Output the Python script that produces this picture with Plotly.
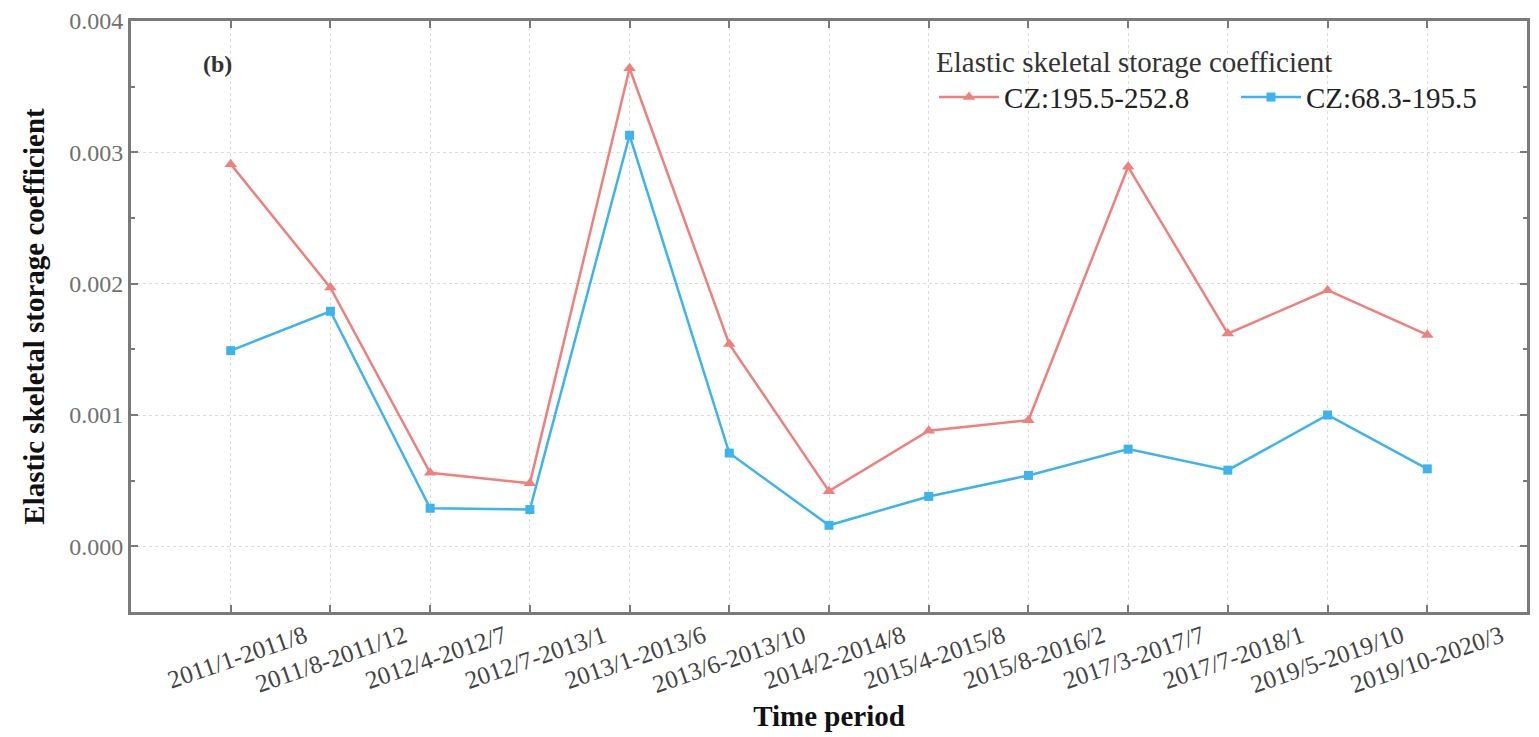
import plotly.graph_objects as go

periods = ["2011/1-2011/8", "2011/8-2011/12", "2012/4-2012/7", "2012/7-2013/1",
           "2013/1-2013/6", "2013/6-2013/10", "2014/2-2014/8", "2015/4-2015/8",
           "2015/8-2016/2", "2017/3-2017/7", "2017/7-2018/1", "2019/5-2019/10",
           "2019/10-2020/3"]
cz_deep = [0.00291, 0.00197, 0.00056, 0.00048, 0.00364, 0.00154, 0.00042,
           0.00088, 0.00096, 0.00289, 0.00162, 0.00195, 0.00161]
cz_shallow = [0.00149, 0.00179, 0.00029, 0.00028, 0.00313, 0.00071, 0.00016,
              0.00038, 0.00054, 0.00074, 0.00058, 0.00100, 0.00059]
name_deep = "CZ:195.5-252.8"
name_shallow = "CZ:68.3-195.5"
y_ticks = [0.000, 0.001, 0.002, 0.003, 0.004]

RED = "#F0807C"
BLUE = "#3DB4EE"
FONT = "Liberation Serif"

# the page body adds an 8px offset; size the figure so it fits the window
OFF = 8
W, H = 1539 - OFF, 737 - OFF
L, R, T, B = 131 - OFF, 12, 21 - OFF, 125
PW, PH = W - L - R, H - T - B


def px_x(page_x):
    return (page_x - OFF - L) / PW


def px_y(page_y):
    return 1 - (page_y - OFF - T) / PH


fig = go.Figure()
fig.add_trace(go.Scatter(
    x=periods, y=cz_deep, name=name_deep, mode="lines+markers",
    line=dict(color=RED, width=2.5),
    marker=dict(symbol="triangle-up", size=11, color=RED)))
fig.add_trace(go.Scatter(
    x=periods, y=cz_shallow, name=name_shallow, mode="lines+markers",
    line=dict(color=BLUE, width=2.5),
    marker=dict(symbol="square", size=9, color=BLUE)))

axis_common = dict(
    showline=True, linecolor="#7a7a7a", linewidth=3, mirror="ticks",
    ticks="inside", ticklen=7, tickwidth=2, tickcolor="#7a7a7a",
    showgrid=True, gridcolor="#dcdcdc", gridwidth=1, griddash="dot",
    zeroline=False, automargin=False, ticklabeloverflow="allow",
)

fig.update_layout(
    width=W, height=H,
    margin=dict(l=L, r=R, t=T, b=B, autoexpand=False),
    paper_bgcolor="white", plot_bgcolor="white",
    font=dict(family=FONT, color="#555555"),
    xaxis=dict(
        **axis_common,
        type="category", range=[-1, 13],
        tickangle=-19, ticklabelshift=74, ticklabelstandoff=-3,
        tickfont=dict(size=25, color="#444444"),
        title=dict(text="<b>Time period</b>", standoff=9,
                   font=dict(size=29, color="#111111")),
    ),
    yaxis=dict(
        **axis_common,
        range=[-0.0005, 0.004], tickvals=y_ticks, tickformat=".3f",
        tickfont=dict(size=24, color="#707070"),
        minor=dict(ticks="inside", dtick=0.0005, tick0=0, ticklen=4,
                   tickcolor="#7a7a7a", showgrid=False),
        title=dict(text="<b>Elastic skeletal storage coefficient</b>",
                   standoff=17, font=dict(size=29, color="#111111")),
    ),
    legend=dict(
        orientation="h", x=px_x(934), y=px_y(34),
        xanchor="left", yanchor="top",
        bgcolor="rgba(0,0,0,0)",
        title=dict(text="Elastic skeletal storage coefficient", side="top",
                   font=dict(size=29, color="#333333")),
        font=dict(size=29, color="#222222"),
        itemwidth=60, entrywidth=227,
    ),
    annotations=[dict(
        text="<b>(b)</b>", xref="paper", yref="paper",
        x=px_x(217), y=px_y(64), xanchor="center", yanchor="middle",
        showarrow=False, font=dict(size=24, color="#333333"),
    )],
)

fig.write_html("out.html")
